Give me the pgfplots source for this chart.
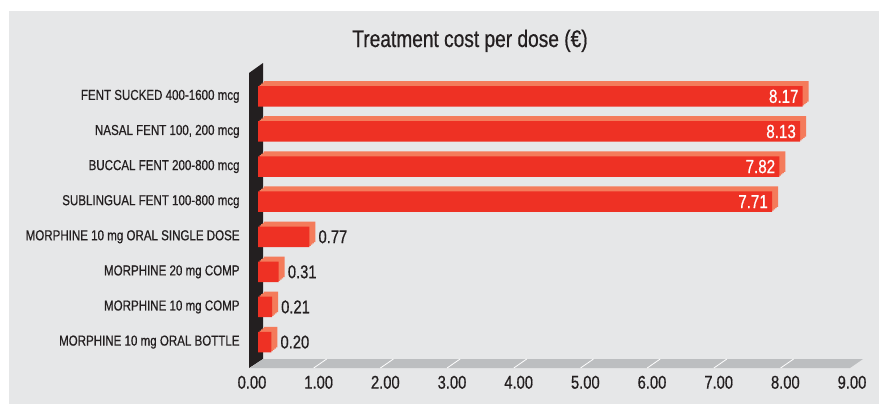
\documentclass[border=0pt]{standalone}
\usepackage{pgfplots}
\pgfplotsset{compat=1.18}
\usepackage{pgfplotstable}
\usepackage{fontspec}
\setmainfont{Liberation Sans}[FakeStretch=0.8, UprightFeatures={FakeBold=0.6}]
\definecolor{bg}{HTML}{E6E7E8}
\definecolor{redf}{HTML}{EE3124}
\definecolor{salmon}{HTML}{F47B5B}
\definecolor{wallc}{HTML}{231F20}
\definecolor{floorc}{HTML}{BCBEC0}
\definecolor{txt}{HTML}{231F20}

\pgfplotstableread{
y x
0 0.20
1 0.21
2 0.31
3 0.77
}\morph
\pgfplotstableread{
y x
4 7.71
5 7.82
6 8.13
7 8.17
}\fent
\pgfplotstableread{
y x
0 0.20
1 0.21
2 0.31
3 0.77
4 7.71
5 7.82
6 8.13
7 8.17
}\alld

\begin{document}
\begin{tikzpicture}[x=1bp,y=1bp]
\useasboundingbox (0,0) rectangle (879,404);
\fill[white] (0,0) rectangle (879,404);
\fill[bg] (9,0) rectangle (879,393);
\fill[wallc] (249,36) -- (249,331) -- (263,341) -- (263,45) -- cycle;
\fill[floorc] (250,36) -- (850,36) -- (863,45) -- (263,45) -- cycle;
\foreach \m in {324.7,391.4,458.1,524.8,591.5,658.2,724.9,791.6}
  \draw[white, line width=0.8bp] (\m-11,36) -- (\m+2,45);
\node[anchor=base, text=txt, font=\fontsize{24}{24}\selectfont, inner sep=0pt] at (470,357) {Treatment cost per dose (€)};
\begin{axis}[
  at={(258bp,44.4bp)}, anchor=south west,
  scale only axis, width=600bp, height=280.8bp,
  xmin=0, xmax=9, ymin=-0.5, ymax=7.5,
  clip=false,
  xbar, bar width=20.5bp, bar shift=0pt,
  axis line style={draw=none},
  tick style={draw=none},
  /pgf/number format/assume math mode=true,
  xtick={0,1,...,9},
  xticklabel style={/pgf/number format/fixed, /pgf/number format/precision=2, /pgf/number format/fixed zerofill,
     inner sep=0pt, anchor=north, yshift=-16bp, xshift=-6bp, text=txt, font=\fontsize{18.5}{18.5}\selectfont},
  ytick={0,...,7},
  yticklabels={MORPHINE 10 mg ORAL BOTTLE, MORPHINE 10 mg COMP, MORPHINE 20 mg COMP, MORPHINE 10 mg ORAL SINGLE DOSE,
     SUBLINGUAL FENT 100-800 mcg, BUCCAL FENT 200-800 mcg, {NASAL FENT 100, 200 mcg}, FENT SUCKED 400-1600 mcg},
  yticklabel style={inner sep=0pt, anchor=east, xshift=-14bp, text=txt, font=\fontsize{14.5}{14.5}\selectfont},
]
\addplot[fill=salmon, draw=none, xshift=6bp, yshift=5bp] table[x=x,y=y]{\alld};
\addplot[fill=salmon, draw=none, xshift=4.5bp, yshift=3.75bp] table[x=x,y=y]{\alld};
\addplot[fill=salmon, draw=none, xshift=3bp, yshift=2.5bp] table[x=x,y=y]{\alld};
\addplot[fill=salmon, draw=none, xshift=1.5bp, yshift=1.25bp] table[x=x,y=y]{\alld};
\addplot[fill=redf, draw=none,
  nodes near coords,
  every node near coord/.append style={/pgf/number format/fixed, /pgf/number format/precision=2, /pgf/number format/fixed zerofill,
     anchor=east, xshift=-4bp, text=white, inner sep=0pt, font=\fontsize{19}{19}\selectfont}]
  table[x=x,y=y]{\fent};
\addplot[fill=redf, draw=none,
  nodes near coords,
  every node near coord/.append style={/pgf/number format/fixed, /pgf/number format/precision=2, /pgf/number format/fixed zerofill,
     anchor=west, xshift=9bp, text=txt, inner sep=0pt, font=\fontsize{18.5}{18.5}\selectfont}]
  table[x=x,y=y]{\morph};
\end{axis}
\end{tikzpicture}
\end{document}
